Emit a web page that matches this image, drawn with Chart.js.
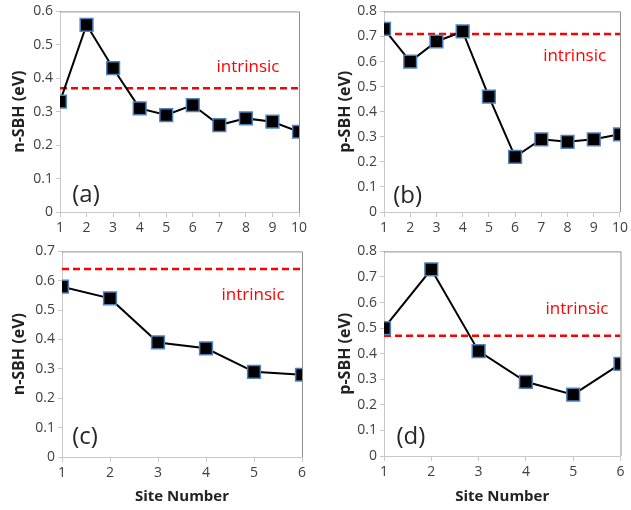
<!DOCTYPE html>
<html>
<head>
<meta charset="utf-8">
<script src="https://cdn.jsdelivr.net/npm/chart.js@4.4.1/dist/chart.umd.min.js"></script>
<style>
  body { margin: 0; background: #fff; }
  #wrap { position: relative; width: 631px; height: 510px; }
  canvas { position: absolute; }
</style>
</head>
<body>
<div id="wrap">
  <canvas id="pa" width="315" height="240" style="left:0;top:0"></canvas>
  <canvas id="pb" width="316" height="240" style="left:315px;top:0"></canvas>
  <canvas id="pc" width="315" height="270" style="left:0;top:240px"></canvas>
  <canvas id="pd" width="316" height="270" style="left:315px;top:240px"></canvas>
</div>
<script>
// site numbers
const sites10 = [1, 2, 3, 4, 5, 6, 7, 8, 9, 10];
const sites6 = [1, 2, 3, 4, 5, 6];

// Schottky barrier heights (eV)
const nSBH_a = [0.33, 0.56, 0.43, 0.31, 0.29, 0.32, 0.26, 0.28, 0.27, 0.24];
const pSBH_b = [0.73, 0.60, 0.68, 0.72, 0.46, 0.22, 0.29, 0.28, 0.29, 0.31];
const nSBH_c = [0.58, 0.54, 0.39, 0.37, 0.29, 0.28];
const pSBH_d = [0.50, 0.73, 0.41, 0.29, 0.24, 0.36];

// intrinsic reference levels
const intrinsic = { a: 0.37, b: 0.71, c: 0.64, d: 0.47 };

const FONT = "'Open Sans', sans-serif";

// draws the frame around the plot and the text notes
const framePlugin = {
    id: 'frame',
    afterDatasetsDraw(chart, args, opts) {
        const { ctx, chartArea: a, scales } = chart;
        ctx.save();
        ctx.strokeStyle = '#8f8f8f';
        ctx.lineWidth = 1;
        ctx.beginPath();
        ctx.moveTo(a.left, a.top + 0.5);
        ctx.lineTo(a.right + 0.5, a.top + 0.5);
        ctx.lineTo(a.right + 0.5, a.bottom);
        ctx.stroke();

        ctx.textAlign = 'center';
        ctx.textBaseline = 'middle';
        ctx.fillStyle = '#ff0000';
        ctx.font = '17px ' + FONT;
        ctx.fillText('intrinsic', scales.x.getPixelForValue(opts.note[0]), scales.y.getPixelForValue(opts.note[1]));
        ctx.fillStyle = '#262626';
        ctx.font = '24px ' + FONT;
        ctx.fillText(opts.tag, scales.x.getPixelForValue(opts.tagAt[0]), scales.y.getPixelForValue(opts.tagAt[1]));
        ctx.restore();
    }
};

function makePanel(id, p) {
    const pts = p.xs.map((x, i) => ({ x: x, y: p.ys[i] }));
    const xmax = p.xs[p.xs.length - 1];
    return new Chart(document.getElementById(id), {
        type: 'line',
        data: {
            datasets: [{
                data: pts,
                borderColor: '#000',
                borderWidth: 2,
                pointStyle: 'rect',
                pointRadius: 9,
                pointBackgroundColor: '#000',
                pointBorderColor: '#4f81bd',
                pointBorderWidth: 1.5,
                tension: 0
            }, {
                data: [{ x: p.xs[0], y: p.level }, { x: xmax, y: p.level }],
                borderColor: '#ff0000',
                borderWidth: 2.5,
                borderDash: [7, 4],
                pointRadius: 0
            }]
        },
        options: {
            responsive: false,
            animation: false,
            layout: { padding: { top: p.top, right: p.right, left: 0, bottom: 0 } },
            plugins: {
                legend: { display: false },
                tooltip: { enabled: false },
                frame: { note: p.note, tag: p.tag, tagAt: p.tagAt }
            },
            scales: {
                x: {
                    type: 'linear',
                    min: 1,
                    max: xmax,
                    afterFit: s => { s.height = p.xh; },
                    grid: { drawOnChartArea: false, color: '#c8c8c8', tickLength: 5 },
                    border: { color: '#c8c8c8' },
                    ticks: { stepSize: 1, color: '#404040', font: { family: FONT, size: 14 }, padding: 3 },
                    title: {
                        display: p.xtitle,
                        text: 'Site Number',
                        color: '#222',
                        font: { family: FONT, size: 15, weight: 'bold' },
                        padding: { top: 0, bottom: 4 }
                    }
                },
                y: {
                    min: 0,
                    max: p.ymax,
                    afterFit: s => { s.width = p.yw; },
                    grid: { drawOnChartArea: false, color: '#c8c8c8', tickLength: 4 },
                    border: { color: '#c8c8c8' },
                    ticks: {
                        stepSize: 0.1,
                        color: '#404040',
                        font: { family: FONT, size: 14 },
                        padding: 3,
                        callback: v => String(+v.toFixed(1))
                    },
                    title: {
                        display: true,
                        text: p.ytitle,
                        color: '#222',
                        font: { family: FONT, size: 16, weight: 'bold' },
                        padding: { top: p.ytpad, bottom: 0 }
                    }
                }
            }
        },
        plugins: [framePlugin]
    });
}

makePanel('pa', { xs: sites10, ys: nSBH_a, level: intrinsic.a, ymax: 0.6, ytitle: 'n-SBH (eV)',
    top: 7, right: 16, yw: 60, xh: 28, xtitle: false, ytpad: 10,
    note: [8.08, 0.433], tag: '(a)', tagAt: [1.98, 0.05] });
makePanel('pb', { xs: sites10, ys: pSBH_b, level: intrinsic.b, ymax: 0.8, ytitle: 'p-SBH (eV)',
    top: 7, right: 8, yw: 69, xh: 28, xtitle: false, ytpad: 21,
    note: [8.27, 0.62], tag: '(b)', tagAt: [1.9, 0.062] });
makePanel('pc', { xs: sites6, ys: nSBH_c, level: intrinsic.c, ymax: 0.7, ytitle: 'n-SBH (eV)',
    top: 9, right: 13, yw: 62, xh: 53, xtitle: true, ytpad: 10,
    note: [4.98, 0.552], tag: '(c)', tagAt: [1.48, 0.067] });
makePanel('pd', { xs: sites6, ys: pSBH_d, level: intrinsic.d, ymax: 0.8, ytitle: 'p-SBH (eV)',
    top: 10, right: 9, yw: 69, xh: 54, xtitle: true, ytpad: 21,
    note: [5.08, 0.575], tag: '(d)', tagAt: [1.57, 0.074] });
</script>
</body>
</html>
